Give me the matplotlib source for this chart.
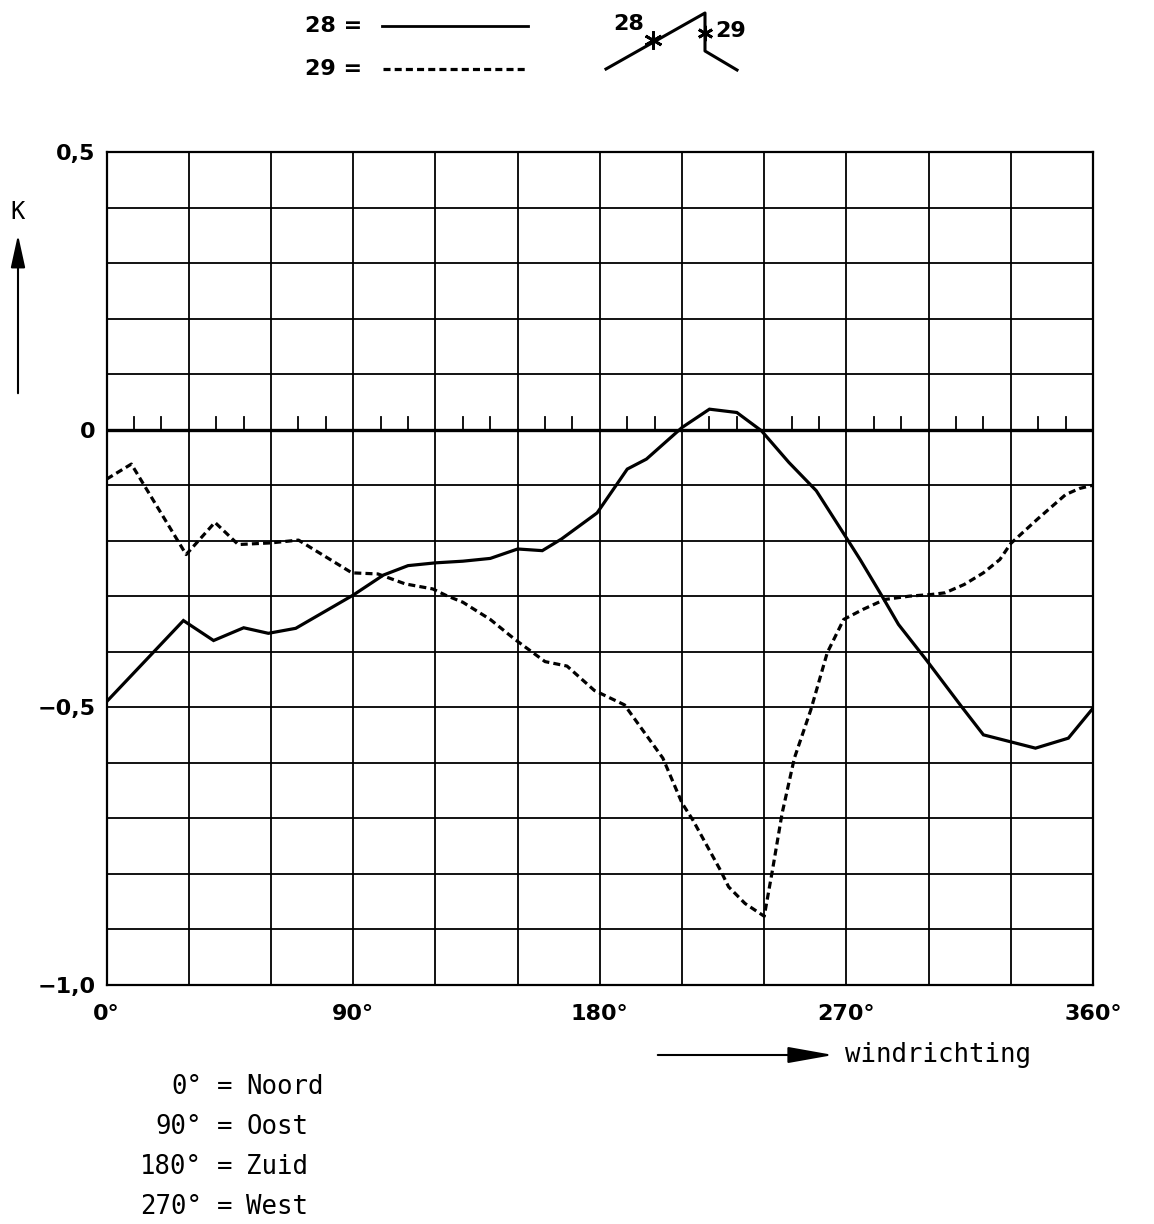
import numpy as np
import matplotlib.pyplot as plt

# windrichting in graden en K-waarden
deg_28 = [0, 28, 39, 50, 59, 69, 90, 101, 110, 120, 130, 140, 150, 159, 166,
          179, 185, 190, 197, 210, 220, 230, 239, 249, 259, 270, 275, 283, 289,
          299, 312, 320, 339, 351, 360]
k_28 = [-0.490, -0.344, -0.380, -0.357, -0.367, -0.358, -0.298, -0.262, -0.245,
        -0.240, -0.237, -0.232, -0.215, -0.218, -0.197, -0.150, -0.107, -0.071,
        -0.053, 0.004, 0.037, 0.031, -0.002, -0.059, -0.110, -0.195, -0.234,
        -0.300, -0.351, -0.414, -0.499, -0.550, -0.574, -0.556, -0.502]

deg_29 = [0, 9, 29, 39.5, 48, 60, 70, 89.5, 99, 109, 119, 124, 130, 140, 149,
          160, 168, 178, 189, 203, 210, 214, 224, 227, 233, 240, 243, 246.5, 251,
          257, 263, 269, 276, 284, 293, 301, 306, 313, 320, 326, 330, 340, 350,
          355, 360]
k_29 = [-0.089, -0.062, -0.225, -0.167, -0.207, -0.204, -0.199, -0.258, -0.260,
        -0.278, -0.287, -0.299, -0.311, -0.342, -0.378, -0.418, -0.426, -0.470,
        -0.496, -0.592, -0.673, -0.704, -0.794, -0.824, -0.854, -0.877, -0.794,
        -0.692, -0.592, -0.505, -0.402, -0.342, -0.324, -0.306, -0.300, -0.297,
        -0.294, -0.279, -0.258, -0.234, -0.205, -0.160, -0.117, -0.106, -0.100]

x_ticks = [0, 90, 180, 270, 360]
x_labels = ['0°', '90°', '180°', '270°', '360°']
y_ticks = [0.5, 0, -0.5, -1.0]
y_labels = ['0,5', '0', '−0,5', '−1,0']

notes_left = ['0°', '90°', '180°', '270°']
notes_right = ['Noord', 'Oost', 'Zuid', 'West']

mono = 'DejaVu Sans Mono'

W, H = 1154, 1224
fig = plt.figure(figsize=(W / 100, H / 100), dpi=100)
ax = fig.add_axes([106.7 / W, 1 - 984.5 / H, (1093 - 106.7) / W, (984.5 - 152.3) / H])

# raster
for gx in range(0, 361, 30):
    ax.axvline(gx, color='k', lw=1.3, zorder=1)
for gy in np.arange(-1.0, 0.51, 0.1):
    ax.axhline(gy, color='k', lw=1.3, zorder=1)
ax.axhline(0, color='k', lw=2.4, zorder=2)
# kleine streepjes op de nullijn, elke 10 graden
for tx in range(10, 360, 10):
    if tx % 30:
        ax.plot([tx, tx], [0, 0.022], color='k', lw=1.3, zorder=2)

ax.plot(deg_28, k_28, color='k', lw=2.3, solid_joinstyle='miter', zorder=3)
ax.plot(deg_29, k_29, color='k', lw=2.3, linestyle=(0, (2.2, 1.3)), zorder=3)

ax.set_xlim(0, 360)
ax.set_ylim(-1.0, 0.5)
ax.set_xticks(x_ticks)
ax.set_xticklabels(x_labels, fontsize=16, fontweight='bold')
ax.set_yticks(y_ticks)
ax.set_yticklabels(y_labels, fontsize=16, fontweight='bold')
ax.tick_params(axis='x', length=0, pad=14)
ax.tick_params(axis='y', length=0, pad=8)
for s in ax.spines.values():
    s.set_linewidth(1.6)

# overlay in pixelcoordinaten voor de teksten en pijlen
ov = fig.add_axes([0, 0, 1, 1], zorder=5)
ov.set_xlim(0, W)
ov.set_ylim(H, 0)
ov.axis('off')
ov.patch.set_alpha(0)

# as-label K
ov.text(18, 212, 'K', fontsize=17, family=mono, ha='center', va='center')
ov.annotate('', xy=(18, 232), xytext=(18, 396),
            arrowprops=dict(arrowstyle='-|>,head_length=1.0,head_width=0.22',
                            lw=1.5, color='k', mutation_scale=20))

# windrichting
ov.annotate('', xy=(836, 1055), xytext=(655, 1055),
            arrowprops=dict(arrowstyle='-|>,head_length=1.4,head_width=0.25',
                            lw=1.5, color='k', mutation_scale=20))
ov.text(845, 1055, 'windrichting', fontsize=18.5, family=mono, ha='left', va='center')

# legenda
ov.text(362, 26, '28 =', fontsize=16, fontweight='bold', ha='right', va='center')
ov.text(362, 69, '29 =', fontsize=16, fontweight='bold', ha='right', va='center')
ov.plot([382, 528], [26, 26], color='k', lw=2.0)
ov.plot([383, 528], [69, 69], color='k', lw=2.3, linestyle=(0, (2.2, 1.3)))

# schets met meetpunten
ov.plot([606, 705, 705, 737], [69, 13, 51, 70], color='k', lw=2.2)
ov.plot([653], [40], marker=(6, 2, 0), color='k', ms=13, mew=2)
ov.plot([705], [33], marker=(6, 2, 0), color='k', ms=11, mew=2)
ov.text(629, 24, '28', fontsize=16, fontweight='bold', ha='center', va='center')
ov.text(731, 31, '29', fontsize=16, fontweight='bold', ha='center', va='center')

# windstreken
for i in range(len(notes_left)):
    yy = 1087 + 40 * i
    ov.text(202, yy, notes_left[i], fontsize=18.5, family=mono, ha='right', va='center')
    ov.text(225, yy, '=', fontsize=18.5, family=mono, ha='center', va='center')
    ov.text(246, yy, notes_right[i], fontsize=18.5, family=mono, ha='left', va='center')

plt.savefig('out.png', dpi=100)
